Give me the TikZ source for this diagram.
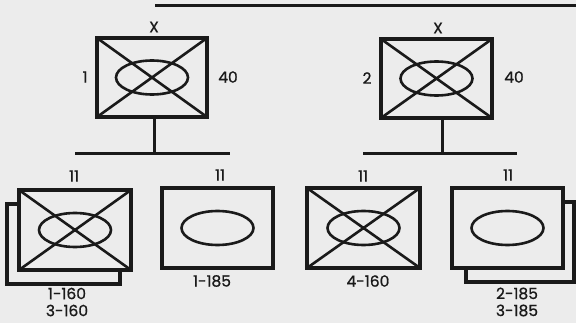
\documentclass[tikz,border=0pt]{standalone}
\usepackage{fontspec}
\setmainfont{Poppins}
\newfontfamily\lblfont{Poppins}[FakeBold=0.9]
\definecolor{paper}{HTML}{ECECEC}
\definecolor{ink}{HTML}{1A1A1A}
\tikzset{
  panel/.style={draw=ink, line width=3.4pt, fill=paper, inner sep=0pt,
    minimum width=111pt, minimum height=80pt},
  crossed/.style={path picture={
      \draw[ink, line width=2.6pt] (path picture bounding box.north west) -- (path picture bounding box.south east)
        (path picture bounding box.south west) -- (path picture bounding box.north east);
      \draw[ink, line width=2.6pt] (path picture bounding box.center) ellipse [x radius=36pt, y radius=17pt];}},
  oval/.style={path picture={
      \draw[ink, line width=2.6pt] (path picture bounding box.center) ellipse [x radius=36pt, y radius=17pt];}},
  lbl/.style={text=ink, font=\lblfont\fontsize{15.5}{17}\selectfont, inner sep=0pt},
  wire/.style={draw=ink, line width=3pt}
}
\begin{document}
\begin{tikzpicture}[x=1pt, y=-1pt]
  \fill[paper] (0,0) rectangle (576,323);
  \useasboundingbox (0,0) rectangle (576,323);
  % top line
  \coordinate (topw) at (155,6);
  \coordinate (tope) at (576,6);
  \draw[wire] (topw) -- (tope);
  % upper units
  \node[panel, crossed, minimum width=110pt, minimum height=79pt] (unitL) at (152,77.5) {};
  \node[panel, crossed, minimum height=79pt] (unitR) at (436.5,78.5) {};
  \node[lbl] (xL) at (154,27) {X};
  \node[lbl] (xR) at (438,28) {X};
  \node[lbl] (nL) at (85,77) {1};
  \node[lbl] (nR) at (367,78) {2};
  \node[lbl] (wL) at (228,77) {40};
  \node[lbl] (wR) at (514,77) {40};
  % buses
  \coordinate (busLw) at (75,154);
  \coordinate (busLe) at (230,154);
  \coordinate (busRw) at (363,154);
  \coordinate (busRe) at (517,154);
  \draw[wire] (busLw) -- (busLe);
  \draw[wire] (busRw) -- (busRe);
  \draw[wire] ([xshift=2pt]unitL.south) -- ([xshift=2pt]unitL.south |- busLw);
  \draw[wire] ([xshift=6pt]unitR.south) -- ([xshift=6pt]unitR.south |- busRw);
  % lower units
  \node[panel, minimum width=113pt] (backA) at (63.5,244) {};
  \node[panel, crossed, minimum width=112pt] (unitA) at (75,230) {};
  \node[panel, oval] (unitB) at (217.5,228) {};
  \node[panel, crossed, minimum width=113pt] (unitC) at (363.5,228) {};
  \node[panel, minimum width=108pt] (backD) at (520,242) {};
  \node[panel, oval] (unitD) at (507.5,228) {};
  \node[lbl] (pA) at (74,176) {11};
  \node[lbl] (pB) at (220,175) {11};
  \node[lbl] (pC) at (363,176) {11};
  \node[lbl] (pD) at (508,175) {11};
  \node[lbl, align=center] (tA) at (67,302) {1-160\\3-160};
  \node[lbl] (tB) at (212,281) {1-185};
  \node[lbl] (tC) at (368,281) {4-160};
  \node[lbl, align=center] (tD) at (517,302) {2-185\\3-185};
\end{tikzpicture}
\end{document}
